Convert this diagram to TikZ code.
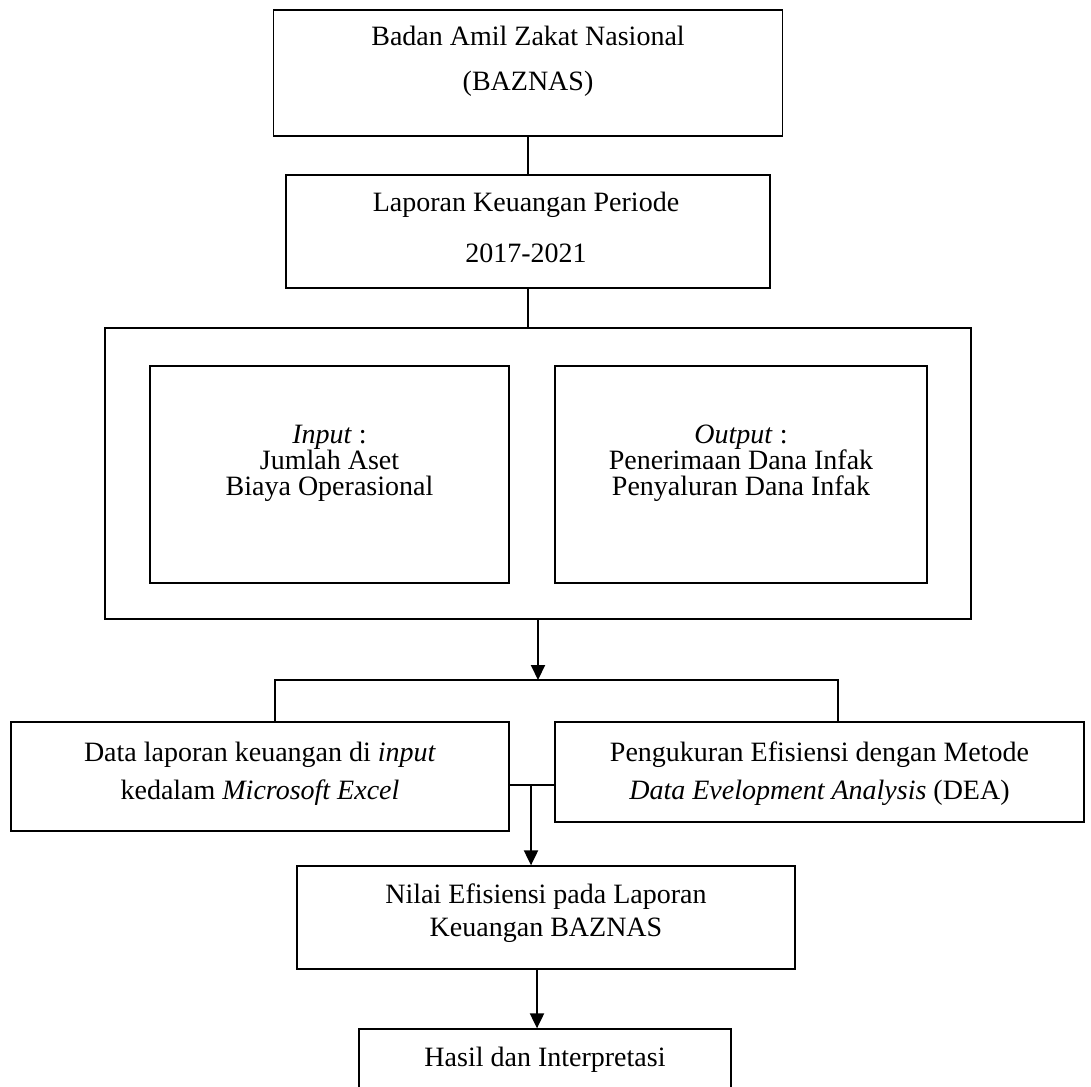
\documentclass[tikz,border=0pt]{standalone}
\usepackage{fontspec}
\setmainfont{Liberation Serif}
\usetikzlibrary{arrows.meta}
\begin{document}
\begin{tikzpicture}[x=1pt,y=-1pt,
  box/.style={draw, line width=1.3pt, inner sep=0pt, fill=none},
  outerbox/.style={draw, line width=2pt, inner sep=0pt},
  txt/.style={inner sep=0pt, align=center, font=\fontsize{28}{28}\selectfont, text height=19pt, text depth=6pt},
  conn/.style={line width=1.3pt},
  arr/.style={line width=2pt, -{Triangle[length=15pt,width=14pt]}}
]
\clip (0,0) rectangle (1091,1086);
\fill[white] (0,0) rectangle (1091,1086);

% boxes
\node[box, minimum width=509pt, minimum height=126pt] (b1) at (528,73) {};
\node[box, minimum width=484pt, minimum height=113pt] (b2) at (528,231.5) {};
\node[outerbox, minimum width=866pt, minimum height=291pt] (outer) at (538,473.5) {};
\node[box, minimum width=359pt, minimum height=217pt] (inL) at (329.5,474.5) {};
\node[box, minimum width=372pt, minimum height=217pt] (inR) at (741,474.5) {};
\node[box, minimum width=498pt, minimum height=109pt] (b3) at (260,776.5) {};
\node[box, minimum width=529pt, minimum height=100pt] (b4) at (819.5,772) {};
\node[box, minimum width=498pt, minimum height=103pt] (b5) at (546,917.5) {};
\node[box, minimum width=372pt, minimum height=71pt] (b6) at (545,1064.5) {};

% texts
\node[txt] (t1a) at (528,39) {Badan Amil Zakat Nasional};
\node[txt] (t1b) at (528,84) {(BAZNAS)};
\node[txt] (t2a) at (526,205) {Laporan Keuangan Periode};
\node[txt] (t2b) at (526,256) {2017-2021};
\node[txt] (tLa) at (329.5,437) {\textit{Input} :};
\node[txt] (tLb) at (329.5,463) {Jumlah Aset};
\node[txt] (tLc) at (329.5,489) {Biaya Operasional};
\node[txt] (tRa) at (741,437) {\textit{Output} :};
\node[txt] (tRb) at (741,463) {Penerimaan Dana Infak};
\node[txt] (tRc) at (741,489) {Penyaluran Dana Infak};
\node[txt] (t3a) at (260,755) {Data laporan keuangan di \textit{input}};
\node[txt] (t3b) at (260,793) {kedalam \textit{Microsoft Excel}};
\node[txt] (t4a) at (819.5,755) {Pengukuran Efisiensi dengan Metode};
\node[txt] (t4b) at (819.5,793) {\textit{Data Evelopment Analysis} (DEA)};
\node[txt] (t5a) at (546,897) {Nilai Efisiensi pada Laporan};
\node[txt] (t5b) at (546,930) {Keuangan BAZNAS};
\node[txt] (t6) at (545,1060) {Hasil dan Interpretasi};

% connectors
\draw[conn] (b1.south) -- (b2.north);
\draw[conn] (b2.south) -- (b2.south |- outer.north);
\coordinate (bl) at (275,680);
\coordinate (br) at (838,680);
\draw[arr] (outer.south) -- (outer.south |- bl);
\draw[conn, line width=1.6pt] (bl |- b3.north) -- (bl) -- (br) -- (br |- b4.north);
\coordinate (j) at (531,785);
\draw[conn] (j -| b3.east) -- (j -| b4.west);
\draw[arr] (j) -- (j |- b5.north);
\coordinate (k) at (537,969);
\draw[arr] (k) -- (k |- b6.north);
\end{tikzpicture}
\end{document}
